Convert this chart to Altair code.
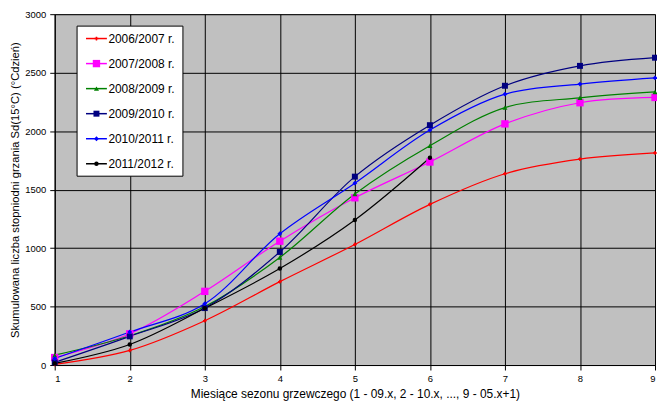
import altair as alt
import pandas as pd

months = [1, 2, 3, 4, 5, 6, 7, 8, 9]
series = ["2006/2007 r.", "2007/2008 r.", "2008/2009 r.", "2009/2010 r.", "2010/2011 r.", "2011/2012 r."]
s_0607 = [6, 125, 379, 713, 1031, 1374, 1636, 1761, 1814]
s_0708 = [64, 267, 630, 1059, 1430, 1736, 2062, 2243, 2288]
s_0809 = [84, 250, 500, 920, 1463, 1875, 2201, 2285, 2335]
s_0910 = [23, 245, 487, 967, 1611, 2051, 2388, 2558, 2628]
s_1011 = [56, 282, 524, 1123, 1555, 2009, 2316, 2402, 2455]
s_1112 = [14, 176, 485, 825, 1240, 1772]
y_ticks = [0, 500, 1000, 1500, 2000, 2500, 3000]

colors = ["#FF0000", "#FF00FF", "#008000", "#000080", "#0000FF", "#000000"]
shapes = ["cross", "square", "triangle-up", "square", "diamond", "circle"]
sizes = [14, 55, 26, 36, 24, 20]

rows = []
for name, vals in zip(series, [s_0607, s_0708, s_0809, s_0910, s_1011, s_1112]):
    for m, v in zip(months, vals):
        rows.append({"series": name, "month": m, "value": v})
df = pd.DataFrame(rows)

FONT = "Liberation Sans"

color_scale = alt.Scale(domain=series, range=colors)
shape_scale = alt.Scale(domain=series, range=shapes)
size_scale = alt.Scale(type="ordinal", domain=series, range=sizes)

x_enc = alt.X("month:Q", scale=alt.Scale(domain=[1, 9], nice=False, zero=False),
              axis=alt.Axis(values=months, format="d",
                            title="Miesiące sezonu grzewczego (1 - 09.x, 2 - 10.x, ..., 9 - 05.x+1)",
                            titlePadding=5))
y_enc = alt.Y("value:Q", scale=alt.Scale(domain=[0, 3000], nice=False),
              axis=alt.Axis(values=y_ticks, format="d",
                            title="Skumulowana liczba stopniodni grzania Sd(15°C) (°Cdzień)",
                            titlePadding=4, titleFontSize=11.3))

lines = alt.Chart(df).mark_line(interpolate="catmull-rom", strokeWidth=1.2).encode(
    x=x_enc, y=y_enc,
    color=alt.Color("series:N", scale=color_scale, legend=None),
    detail="series:N",
)
points = alt.Chart(df).mark_point(filled=True, opacity=1).encode(
    x=x_enc, y=y_enc,
    color=alt.Color("series:N", scale=color_scale, legend=None),
    shape=alt.Shape("series:N", scale=shape_scale, legend=None),
    size=alt.Size("series:N", scale=size_scale, legend=None),
)

# manual legend (line + marker + text), placed inside the plot area
leg_df = pd.DataFrame({"series": series, "rank": list(range(len(series)))})
leg_base = alt.Chart(leg_df).transform_calculate(ly="24.5 + datum.rank * 25.2")
leg_box = alt.Chart(leg_df.head(1)).mark_rect(fill="white", stroke="black", strokeWidth=1).encode(
    x=alt.value(22.5), x2=alt.value(129), y=alt.value(12), y2=alt.value(163)
)
leg_lines = leg_base.mark_rule(strokeWidth=1.5).encode(
    x=alt.value(31.5), x2=alt.value(52.5),
    y=alt.Y("ly:Q", scale=None),
    color=alt.Color("series:N", scale=color_scale, legend=None),
)
leg_pts = leg_base.mark_point(filled=True, opacity=1).encode(
    x=alt.value(42), y=alt.Y("ly:Q", scale=None),
    color=alt.Color("series:N", scale=color_scale, legend=None),
    shape=alt.Shape("series:N", scale=shape_scale, legend=None),
    size=alt.Size("series:N", scale=size_scale, legend=None),
)
leg_text = leg_base.mark_text(align="left", baseline="middle", font=FONT, fontSize=12, color="black").encode(
    x=alt.value(54), y=alt.Y("ly:Q", scale=None), text="series:N"
)

chart = alt.layer(lines, points, leg_box, leg_lines, leg_pts, leg_text).properties(
    width=604, height=353,
    autosize=alt.AutoSizeParams(type="none"),
    padding={"left": 47, "top": 5, "right": 2, "bottom": 40},
    background="white",
).configure_view(
    fill="#C0C0C0", stroke="#808080", strokeWidth=1
).configure_axis(
    labelFont=FONT, labelFontSize=9.5, labelColor="black",
    titleFont=FONT, titleFontSize=12, titleFontWeight="normal", titleColor="black",
    domainColor="black", domainWidth=1, tickColor="black", tickSize=5, tickWidth=1,
    gridColor="black", gridOpacity=1, gridWidth=1, labelPadding=4,
)

chart.save("out.html", embed_options={"renderer": "svg", "actions": False})
